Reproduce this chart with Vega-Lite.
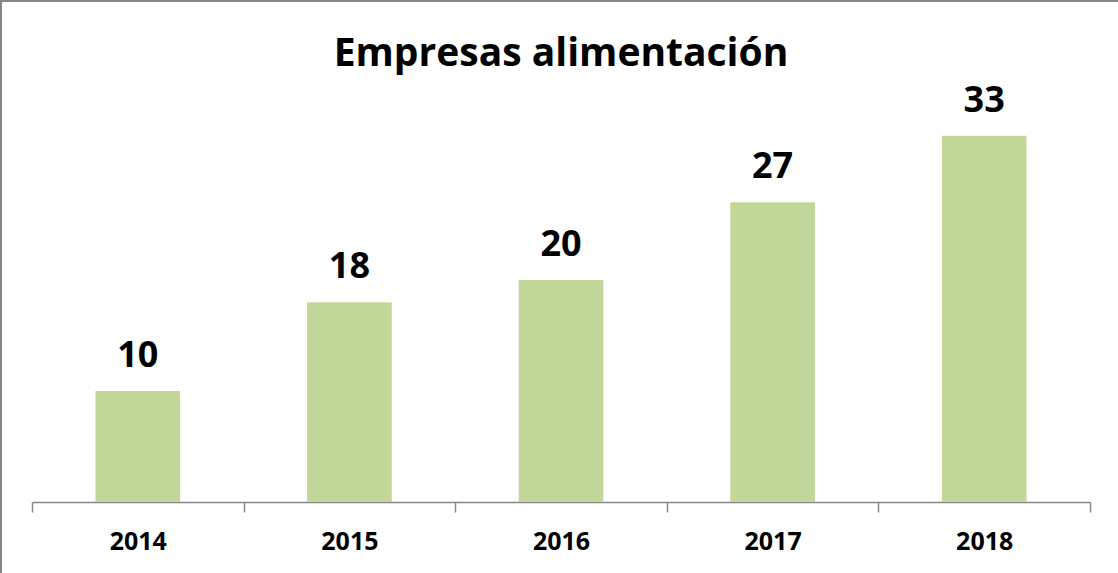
{
  "$schema": "https://vega.github.io/schema/vega-lite/v6.json",
  "width": 1120,
  "height": 575,
  "autosize": {"type": "none"},
  "padding": {"left": 1, "top": 1, "right": -3, "bottom": -3},
  "background": "white",
  "config": {"view": {"stroke": "#868686", "strokeWidth": 2}, "font": "Open Sans"},
  "data": {"values": [
    {"year": "2014", "n": 10},
    {"year": "2015", "n": 18},
    {"year": "2016", "n": 20},
    {"year": "2017", "n": 27},
    {"year": "2018", "n": 33}
  ]},
  "encoding": {
    "x": {"field": "year", "type": "nominal", "sort": null,
      "scale": {"paddingInner": 0, "paddingOuter": 0, "range": [31, 1089]},
      "axis": {"title": null, "labelAngle": 0, "domainColor": "#868686", "domainWidth": 1.5, "tickColor": "#868686", "tickWidth": 1.5, "tickSize": 10, "tickBand": "extent", "labelFont": "Open Sans", "labelFontSize": 25, "labelFontWeight": "bold", "labelColor": "black", "labelBaseline": "alphabetic", "labelPadding": 37, "offset": -74, "grid": false}
    }
  },
  "layer": [
    {"mark": {"type": "bar", "color": "#C4D79B", "width": {"band": 0.4}},
     "encoding": {
       "y": {"field": "n", "type": "quantitative", "scale": {"domain": [-6.67, 45.14], "nice": false, "zero": false}, "axis": null},
       "y2": {"datum": 0}
     }},
    {"mark": {"type": "text", "dy": -24, "baseline": "alphabetic", "fontSize": 36, "fontWeight": "bold", "font": "Open Sans", "color": "black"},
     "encoding": {
       "y": {"field": "n", "type": "quantitative"},
       "text": {"field": "n", "type": "quantitative"}
     }},
    {"data": {"values": [{"title": "Empresas alimentación"}]},
     "mark": {"type": "text", "baseline": "alphabetic", "align": "center", "fontSize": 39, "fontWeight": "bold", "font": "Open Sans", "color": "black"},
     "encoding": {
       "x": {"datum": "2016"},
       "y": {"datum": 39.3, "type": "quantitative"},
       "text": {"field": "title", "type": "nominal"}
     }}
  ]
}
